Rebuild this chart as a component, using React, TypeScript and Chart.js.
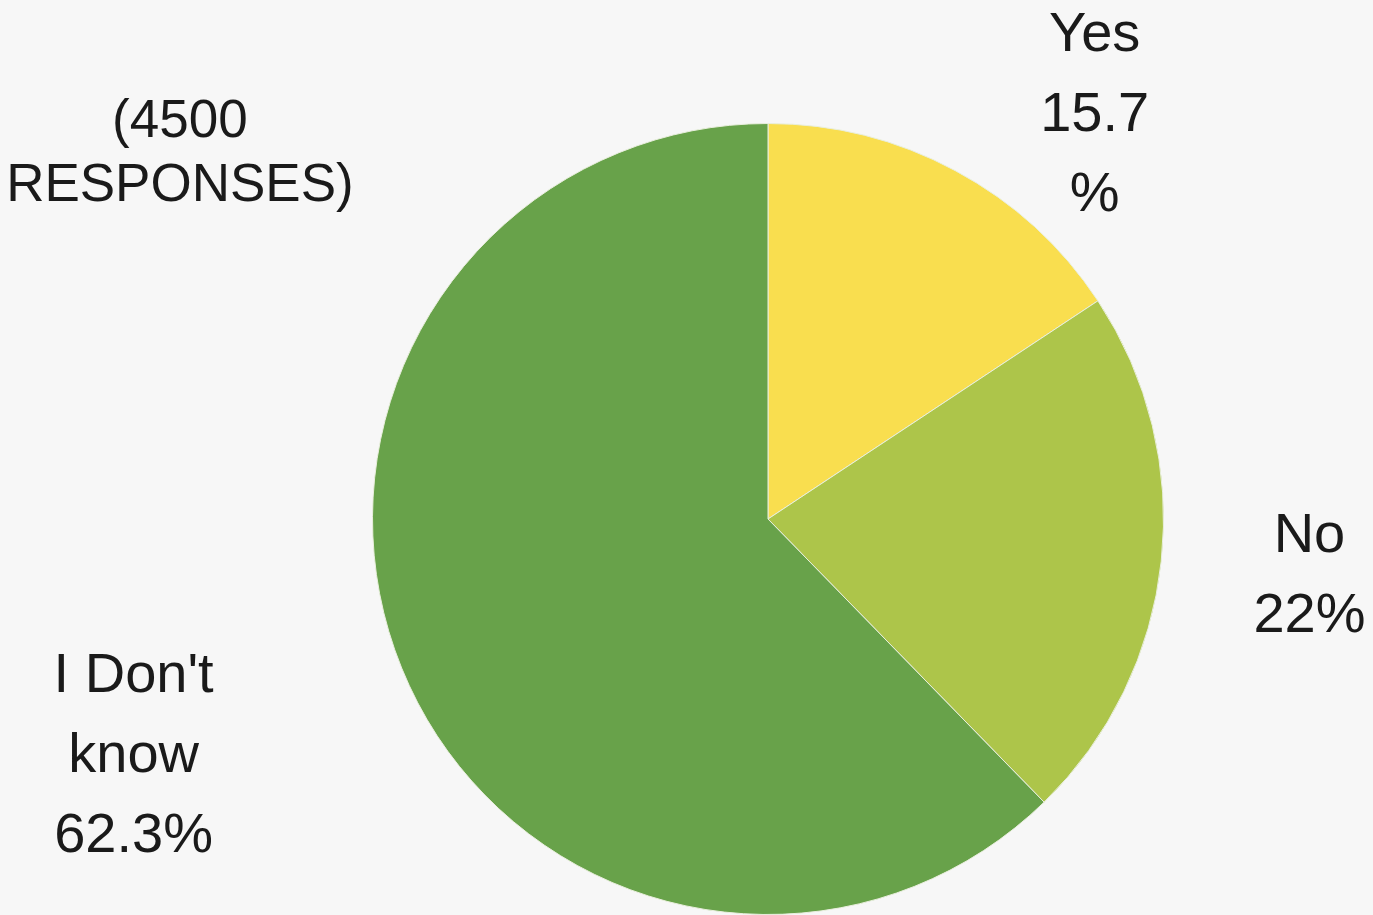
import React, { useEffect, useRef } from "react";
import { Chart, registerables } from "chart.js";

Chart.register(...registerables);

const categories = ["Yes", "No", "I Don't know"];
const values = [15.7, 22, 62.3];
const labelLines = [["Yes", "15.7", "%"], ["No", "22%"], ["I Don't", "know", "62.3%"]];
const noteLines = ["(4500", "RESPONSES)"];
const colors = ["#f9de4f", "#adc54a", "#68a24a"];

// label anchor offsets in radius units from the pie centre (first-line baseline)
const labelAnchors = [
  [0.826, -1.184],
  [1.369, 0.083],
  [-1.604, 0.437],
];
const noteAnchor = [-1.487, -0.965];

const labelsPlugin = {
  id: "pieLabels",
  afterDraw(chart: any) {
    const meta = chart.getDatasetMeta(0);
    const arc = meta.data[0];
    if (!arc) return;
    const { x, y, outerRadius } = arc.getProps(["x", "y", "outerRadius"], true);
    const ctx = chart.ctx;
    ctx.save();
    ctx.fillStyle = "#1a1a1a";
    ctx.textAlign = "center";
    ctx.textBaseline = "alphabetic";
    ctx.font = "56px 'Liberation Sans', Arial, sans-serif";
    labelLines.forEach((lines, i) => {
      const [ax, ay] = labelAnchors[i];
      lines.forEach((t, j) => {
        ctx.fillText(t, x + ax * outerRadius, y + ay * outerRadius + j * 80);
      });
    });
    ctx.font = "53px 'Liberation Sans', Arial, sans-serif";
    noteLines.forEach((t, j) => {
      ctx.fillText(t, x + noteAnchor[0] * outerRadius, y + noteAnchor[1] * outerRadius + j * 64);
    });
    ctx.restore();
  },
};

export default function App() {
  const ref = useRef<HTMLCanvasElement>(null);
  useEffect(() => {
    if (!ref.current) return;
    const chart = new Chart(ref.current, {
      type: "pie",
      data: {
        labels: categories,
        datasets: [
          {
            data: values,
            backgroundColor: colors,
            borderColor: "#e8eedc",
            borderWidth: 1,
          },
        ],
      },
      options: {
        responsive: false,
        animation: false,
        layout: { padding: { top: 123, bottom: 0, left: 372, right: 209 } },
        plugins: {
          legend: { display: false },
          tooltip: { enabled: false },
        },
      },
      plugins: [labelsPlugin],
    });
    return () => chart.destroy();
  }, []);
  return (
    <div style={{ position: "absolute", left: 0, top: 0, width: 1373, height: 915, background: "#f7f7f7" }}>
      <canvas ref={ref} width={1373} height={915} style={{ display: "block" }} />
    </div>
  );
}
